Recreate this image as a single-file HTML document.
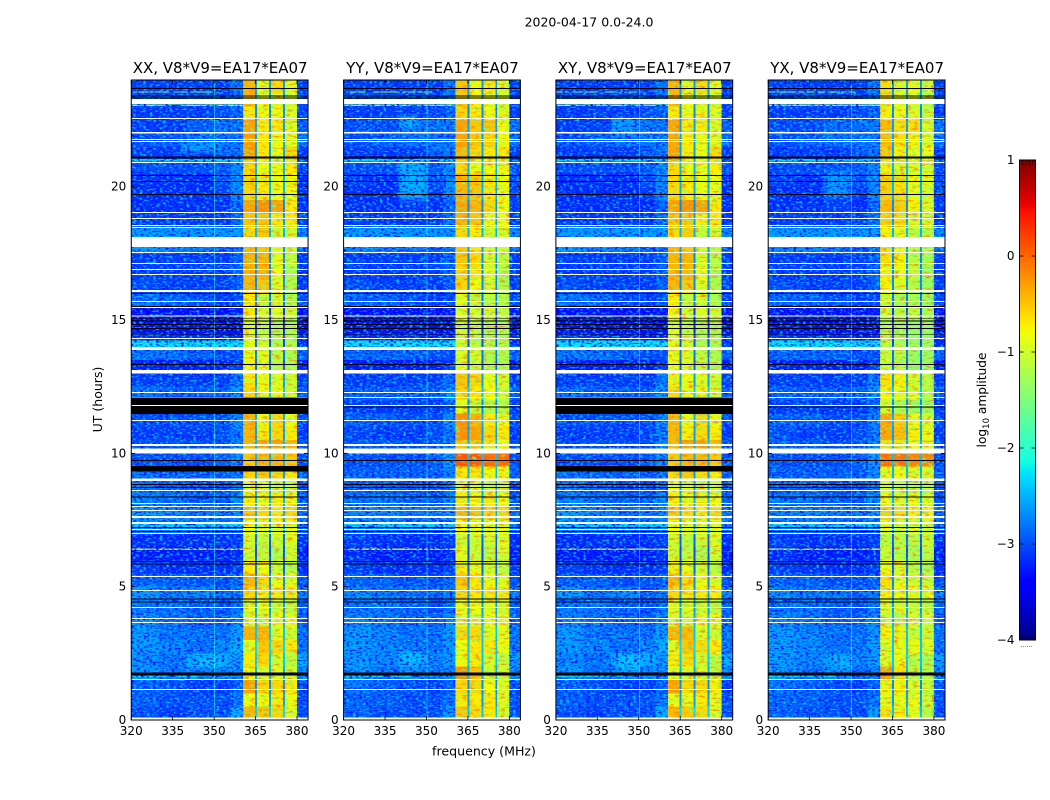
<!DOCTYPE html>
<html lang="en">
<head>
<meta charset="utf-8">
<title>2020-04-17 amplitude waterfall</title>
<style>
html,body{margin:0;padding:0;background:#fff}
svg{display:block}
text{font-family:"DejaVu Sans","Liberation Sans",sans-serif;fill:#000}
</style>
</head>
<body>
<svg id="chart" xmlns="http://www.w3.org/2000/svg" width="1050" height="800" viewBox="0 0 1050 800">
<defs>
<filter id="speck-light" x="0" y="0" width="100%" height="100%" color-interpolation-filters="sRGB">
<feTurbulence type="fractalNoise" baseFrequency="0.3 0.55" numOctaves="1" seed="4"/>
<feColorMatrix type="matrix" values="0 0 0 0 0  0 0 0 0 0.72  0 0 0 0 1  5 0 0 0 -2.45"/>
</filter>
<filter id="speck-dark" x="0" y="0" width="100%" height="100%" color-interpolation-filters="sRGB">
<feTurbulence type="fractalNoise" baseFrequency="0.32 0.58" numOctaves="1" seed="11"/>
<feColorMatrix type="matrix" values="0 0 0 0 0  0 0 0 0 0.1  0 0 0 0 1  5 0 0 0 -2.5"/>
</filter>
<filter id="speck-warm" x="0" y="0" width="100%" height="100%" color-interpolation-filters="sRGB">
<feTurbulence type="fractalNoise" baseFrequency="0.16 0.42" numOctaves="2" seed="23"/>
<feColorMatrix type="matrix" values="0 0 0 0 1  0 0 0 0 0.5  0 0 0 0 0  3.2 0 0 0 -1.7"/>
</filter>
<filter id="speck-cool" x="0" y="0" width="100%" height="100%" color-interpolation-filters="sRGB">
<feTurbulence type="fractalNoise" baseFrequency="0.18 0.4" numOctaves="2" seed="37"/>
<feColorMatrix type="matrix" values="0 0 0 0 0.45  0 0 0 0 1  0 0 0 0 0.5  3.2 0 0 0 -1.75"/>
</filter>
<filter id="soft-blob" x="-30%" y="-30%" width="160%" height="160%">
<feGaussianBlur stdDeviation="2.5"/>
</filter>
</defs>
<text x="589" y="26.5" font-size="12.5" text-anchor="middle">2020-04-17 0.0-24.0</text>
<text x="484" y="755.5" font-size="12.6" text-anchor="middle">frequency (MHz)</text>
<text transform="translate(102,399.5) rotate(-90)" font-size="12.5" text-anchor="middle">UT (hours)</text>
<text transform="translate(986,400) rotate(-90)" font-size="12.2" text-anchor="middle">log<tspan font-size="8.5" dy="3">10</tspan><tspan dy="-3"> amplitude</tspan></text>
</svg>
<script>
// ---- data values ----
const panelTitles = ["XX, V8*V9=EA17*EA07", "YY, V8*V9=EA17*EA07", "XY, V8*V9=EA17*EA07", "YX, V8*V9=EA17*EA07"];
const freqTicks = [320, 335, 350, 365, 380];
const utTicks = [0, 5, 10, 15, 20];
const cbarTicks = [1, 0, -1, -2, -3, -4];
const bgFreqEdges = [320, 330, 340, 350, 356, 360.5];
const blockFreqEdges = [[360.5, 364.8], [365.5, 369.9], [370.6, 374.9], [375.6, 380]];
const gapFreqEdges = [[364.8, 365.5], [369.9, 370.6], [374.9, 375.6], [380, 384]];
const rowHours = 0.5;

// log10 amplitude per half hour (row 0 = 0.0-0.5 h), background columns
const bgX = [
[-3.0,-3.1,-3.0,-3.0,-2.5],[-2.9,-3.0,-3.0,-3.0,-2.8],[-2.9,-3.0,-3.1,-3.1,-2.9],[-2.6,-2.8,-2.7,-2.7,-2.7],
[-2.7,-2.8,-2.5,-2.5,-2.6],[-2.6,-2.7,-2.8,-2.7,-2.5],[-2.6,-2.8,-2.8,-2.8,-2.6],[-2.7,-2.8,-2.9,-2.9,-2.7],
[-2.8,-2.8,-2.9,-3.0,-2.8],[-2.6,-2.8,-2.7,-2.9,-2.8],[-2.9,-2.9,-3.0,-3.0,-2.9],[-3.1,-3.2,-3.2,-3.2,-3.1],
[-3.3,-3.3,-3.3,-3.3,-3.2],[-3.2,-3.2,-3.2,-3.2,-3.1],[-2.7,-2.7,-2.8,-2.9,-2.8],[-2.6,-2.7,-2.8,-2.8,-2.7],
[-2.7,-2.8,-2.9,-2.9,-2.7],[-2.8,-2.9,-3.0,-3.0,-2.8],[-2.8,-2.9,-2.9,-2.9,-2.8],[-3.0,-3.0,-3.0,-2.9,-2.7],
[-3.0,-3.0,-3.0,-3.0,-2.7],[-3.1,-3.1,-3.1,-3.0,-2.8],[-3.0,-3.0,-3.0,-3.0,-2.7],[-3.1,-3.1,-3.1,-3.1,-2.9],
[-2.8,-2.9,-2.9,-2.9,-2.6],[-3.1,-3.1,-3.1,-3.1,-2.8],[-3.3,-3.3,-3.3,-3.3,-3.1],[-2.8,-2.8,-2.9,-3.0,-3.0],
[-3.1,-3.2,-3.2,-3.3,-3.2],[-3.5,-3.5,-3.5,-3.5,-3.4],[-3.4,-3.4,-3.4,-3.4,-3.3],[-2.8,-2.9,-3.0,-3.1,-3.0],
[-3.0,-3.1,-3.1,-3.1,-2.9],[-3.1,-3.1,-3.1,-3.1,-2.9],[-3.1,-3.1,-3.1,-3.1,-2.9],[-2.6,-2.7,-2.8,-2.9,-2.8],
[-2.6,-2.7,-2.7,-2.8,-2.7],[-3.1,-3.1,-3.1,-3.1,-2.8],[-3.2,-3.2,-3.2,-3.2,-2.9],[-3.2,-3.2,-3.2,-3.1,-2.7],
[-3.2,-3.2,-3.2,-3.0,-2.7],[-3.0,-3.0,-3.0,-2.9,-2.7],[-3.1,-3.1,-3.1,-2.9,-2.8],[-3.0,-2.9,-2.8,-2.8,-2.8],
[-3.1,-3.1,-2.9,-2.8,-2.8],[-3.1,-3.1,-3.1,-3.0,-2.9],[-3.0,-3.0,-3.0,-3.0,-2.8],[-3.1,-3.1,-3.1,-3.1,-2.8]];
const bgY = [
[-2.9,-3.0,-3.0,-3.0,-2.6],[-2.9,-2.9,-3.0,-3.0,-2.8],[-2.8,-2.9,-3.0,-3.1,-2.9],[-2.6,-2.8,-2.7,-2.8,-2.7],
[-2.6,-2.7,-2.6,-2.7,-2.6],[-2.6,-2.7,-2.8,-2.8,-2.6],[-2.6,-2.7,-2.8,-2.8,-2.6],[-2.7,-2.8,-2.9,-2.9,-2.7],
[-2.8,-2.8,-2.9,-3.0,-2.8],[-2.7,-2.8,-2.8,-2.9,-2.8],[-2.9,-2.9,-3.0,-3.0,-2.9],[-3.1,-3.2,-3.2,-3.2,-3.1],
[-3.2,-3.3,-3.3,-3.3,-3.2],[-3.1,-3.2,-3.2,-3.2,-3.1],[-2.8,-2.8,-2.9,-3.0,-2.9],[-2.7,-2.7,-2.8,-2.8,-2.7],
[-2.8,-2.8,-2.9,-2.9,-2.7],[-2.9,-2.9,-3.0,-3.0,-2.8],[-2.9,-2.9,-2.9,-2.9,-2.7],[-3.0,-3.0,-3.0,-2.9,-2.6],
[-2.9,-2.9,-3.0,-3.0,-2.7],[-3.0,-3.1,-3.1,-3.0,-2.8],[-2.9,-2.9,-3.0,-3.0,-2.7],[-3.1,-3.1,-3.1,-3.1,-2.9],
[-2.9,-2.9,-2.9,-2.9,-2.6],[-3.1,-3.1,-3.1,-3.1,-2.8],[-3.3,-3.3,-3.3,-3.3,-3.1],[-2.9,-2.9,-2.9,-3.0,-3.0],
[-3.2,-3.2,-3.2,-3.3,-3.2],[-3.5,-3.5,-3.5,-3.5,-3.4],[-3.4,-3.4,-3.4,-3.4,-3.3],[-2.9,-2.9,-3.0,-3.1,-3.0],
[-3.0,-3.1,-3.1,-3.1,-2.9],[-3.1,-3.1,-3.1,-3.1,-2.9],[-3.1,-3.1,-3.1,-3.1,-2.9],[-2.7,-2.7,-2.8,-2.9,-2.8],
[-2.7,-2.7,-2.7,-2.8,-2.7],[-3.1,-3.1,-3.1,-3.1,-2.8],[-3.2,-3.2,-3.1,-3.2,-2.9],[-3.2,-3.2,-3.1,-3.1,-2.7],
[-3.1,-3.2,-3.0,-3.0,-2.7],[-3.0,-3.0,-3.0,-2.9,-2.7],[-3.1,-3.1,-3.1,-2.9,-2.8],[-3.0,-2.9,-2.8,-2.8,-2.8],
[-3.0,-3.0,-2.8,-2.8,-2.8],[-3.1,-3.1,-3.1,-3.0,-2.9],[-3.0,-3.0,-3.0,-3.0,-2.8],[-3.1,-3.1,-3.1,-3.1,-2.8]];

// log10 amplitude per half hour in the four bright frequency blocks
const blockXX = [
[-0.4,-0.5,-0.6,-0.9],[-0.8,-0.8,-0.7,-0.8],[-0.3,-0.6,-0.6,-0.7],[-0.8,-0.9,-0.9,-1.0],
[-0.7,-0.6,-1.0,-1.1],[-0.9,-0.5,-0.6,-0.7],[-0.4,-0.4,-0.9,-1.0],[-0.9,-1.0,-0.8,-0.8],
[-0.9,-0.9,-1.0,-1.1],[-0.6,-0.7,-0.7,-0.7],[-0.4,-0.6,-0.8,-0.9],[-0.7,-0.8,-1.0,-1.1],
[-1.0,-1.1,-1.2,-1.0],[-1.0,-1.1,-1.0,-0.9],[-0.8,-0.9,-0.9,-0.9],[-0.5,-0.6,-0.7,-0.6],
[-0.7,-0.8,-0.7,-0.8],[-0.8,-0.9,-1.0,-1.0],[-0.6,-0.5,-0.6,-0.7],[-0.5,-0.4,-0.4,-0.5],
[-0.4,-0.3,-0.3,-0.4],[-0.4,-0.7,-0.6,-0.7],[-0.4,-0.8,-0.6,-0.8],[-0.7,-0.8,-0.8,-0.9],
[-0.6,-0.8,-0.8,-1.0],[-0.7,-0.8,-0.9,-1.0],[-0.8,-0.9,-1.1,-1.2],[-0.8,-0.9,-1.1,-1.2],
[-0.9,-1.0,-1.2,-1.2],[-0.9,-1.1,-1.2,-1.2],[-0.7,-1.0,-0.9,-1.0],[-0.7,-1.1,-1.0,-1.2],
[-0.4,-0.5,-0.9,-1.2],[-0.4,-0.4,-0.8,-1.2],[-0.4,-0.4,-0.9,-1.1],[-0.4,-0.5,-0.9,-1.0],
[-0.6,-0.5,-1.0,-1.0],[-0.5,-0.5,-0.7,-0.7],[-0.3,-0.2,-0.3,-0.7],[-0.6,-0.7,-0.8,-0.8],
[-0.6,-0.7,-0.8,-0.8],[-0.6,-0.8,-0.8,-0.7],[-0.3,-0.7,-0.8,-0.6],[-0.3,-0.7,-0.8,-0.9],
[-0.3,-0.7,-0.7,-0.9],[-0.7,-0.8,-0.8,-0.9],[-0.4,-0.8,-0.9,-1.0],[-0.4,-0.9,-0.6,-0.9]];
const blockYY = [
[-0.5,-0.6,-0.7,-1.0],[-0.7,-0.7,-0.7,-0.9],[-0.6,-0.6,-0.8,-0.9],[-0.2,-0.5,-1.0,-1.0],
[-0.8,-0.7,-1.0,-1.1],[-0.8,-0.7,-0.7,-0.8],[-0.6,-0.6,-0.9,-0.9],[-0.9,-1.0,-0.8,-0.8],
[-0.8,-0.8,-0.9,-1.0],[-0.6,-0.7,-0.7,-0.7],[-0.5,-0.7,-0.8,-0.9],[-0.7,-0.8,-1.0,-1.1],
[-0.9,-1.0,-1.1,-1.0],[-1.0,-1.0,-1.0,-0.9],[-0.8,-0.9,-0.9,-0.9],[-0.4,-0.5,-0.6,-0.6],
[-0.7,-0.8,-0.7,-0.8],[-0.8,-0.9,-1.0,-1.0],[-0.7,-0.7,-0.8,-0.8],[0.1,0.1,0.0,0.0],
[-0.5,-0.5,-0.7,-0.8],[-0.2,-0.3,-0.6,-0.7],[-0.2,-0.4,-0.7,-0.8],[-0.9,-1.1,-1.2,-1.2],
[-0.6,-0.7,-0.8,-1.0],[-0.5,-0.6,-0.8,-1.0],[-0.9,-1.0,-1.2,-1.2],[-0.9,-1.0,-1.2,-1.2],
[-1.0,-1.1,-1.2,-1.2],[-1.0,-1.1,-1.2,-1.2],[-0.9,-1.0,-1.0,-1.1],[-0.9,-1.1,-1.1,-1.2],
[-0.6,-0.8,-1.0,-1.2],[-0.6,-0.7,-0.9,-1.2],[-0.5,-0.6,-1.0,-1.1],[-0.5,-0.7,-1.0,-1.0],
[-0.6,-0.7,-1.0,-1.0],[-0.4,-0.5,-0.8,-0.8],[-0.3,-0.4,-0.6,-0.8],[-0.4,-0.5,-0.7,-0.8],
[-0.4,-0.5,-0.7,-0.8],[-0.6,-0.8,-0.8,-0.8],[-0.4,-0.6,-0.7,-0.7],[-0.3,-0.5,-0.6,-0.8],
[-0.3,-0.5,-0.5,-0.8],[-0.6,-0.7,-0.8,-0.9],[-0.5,-0.7,-0.8,-1.0],[-0.5,-0.8,-0.7,-0.9]];
const panelBg = [bgX, bgY, bgX, bgY];
const panelBlock = [blockXX, blockYY, blockXX, blockYY];
const panelBlockOffset = [0, 0, -0.02, -0.14];

// flagged (blank) and zero-amplitude (black) time ranges, hours
const whiteFlags = [[23.10,23.29],[22.54,22.58],[21.99,22.05],[21.75,21.79],[21.68,21.71],[20.89,20.93],[19.01,19.05],[18.79,18.83],[18.53,18.56],[18.45,18.49],[17.74,18.11],[17.51,17.55],[17.10,17.14],[16.88,16.91],[16.69,16.73],[16.05,16.13],[15.68,15.71],[15.45,15.49],[15.13,15.17],[14.29,14.33],[13.88,13.99],[12.99,13.13],[12.26,12.30],[12.08,12.11],[11.78,11.81],[11.21,11.25],[10.28,10.35],[9.99,10.18],[8.96,9.06],[8.59,8.63],[8.10,8.14],[7.98,8.02],[7.84,7.88],[7.58,7.65],[7.35,7.43],[7.13,7.16],[6.98,7.01],[5.36,5.40],[4.84,4.88],[4.20,4.24],[3.79,3.83],[3.64,3.68],[1.50,1.54],[1.13,1.16],[0,0.09]];
const blackCommon = [[23.66,23.70],[23.38,23.42],[23.31,23.35],[21.06,21.13],[20.40,20.44],[20.18,20.21],[19.69,19.73],[15.98,16.01],[15.49,15.53],[15.05,15.08],[14.95,14.98],[14.81,14.85],[14.66,14.70],[14.45,14.48],[13.31,13.35],[9.71,9.75],[8.81,8.85],[8.70,8.74],[8.34,8.38],[7.20,7.24],[7.05,7.09],[5.93,5.97],[5.83,5.87],[4.52,4.56],[4.41,4.44],[1.67,1.78]];
const blackExtraX = [[11.81,12.09],[11.48,11.78],[9.32,9.53]];
const blackExtraY = [[11.72,11.76]];
const panelBlackExtra = [blackExtraX, blackExtraY, blackExtraX, blackExtraY];

// narrow RFI features: [t0, t1, f0, f1, level]
const rfiRows = [[6.38,6.43,320,360.5,-0.9],[23.03,23.08,320,360.5,-1.2],[23.54,23.57,320,352,-1.2],[20.95,21.04,320,360.5,-2.3],[13.99,14.24,320,360.5,-2.2],[18.11,18.45,320,360.5,-2.6],[7.2,7.35,320,360.5,-2.3],[1.62,1.67,320,344,-2.3]];
// broadband blobs: [panel, f0, f1, t0, t1, level]
const blobs = [[0,343,352,2.0,2.3,-2.3],[0,338,352,21.3,21.6,-2.4],[1,340,350,19.5,21,-2.3],[1,340,348,2,2.6,-2.3],[1,340,347,22.2,22.7,-2.4],[2,343,350,1.8,2.4,-2.3],[2,340,350,22,22.6,-2.5],[3,343,350,1.9,2.4,-2.4],[3,340,350,19.6,20.6,-2.5]];
const rfiChannels = [350];
const rfiChannelLevel = -2.0;

// ---- layout and scales ----
const NS = "http://www.w3.org/2000/svg";
const svg = document.getElementById("chart");
const panelLefts = [131.25, 343.6, 555.9, 768.2];
const panelW = 176.8, panelTop = 80, panelH = 640;
const fmin = 320, fmax = 384, tmin = 0, tmax = 24;
const cbX = 1019.5, cbW = 16, cbTop = 160, cbH = 480;

function xScale(left, f) { return left + (f - fmin) / (fmax - fmin) * panelW; }
function yScale(t) { return panelTop + panelH - (t - tmin) / (tmax - tmin) * panelH; }
function jetChannel(t, pts) {
  for (let i = 1; i < pts.length; i++) {
    if (t <= pts[i][0]) {
      const a = pts[i - 1], b = pts[i];
      return a[1] + (b[1] - a[1]) * (t - a[0]) / (b[0] - a[0]);
    }
  }
  return pts[pts.length - 1][1];
}
const jetR = [[0,0],[0.35,0],[0.66,1],[0.89,1],[1,0.5]];
const jetG = [[0,0],[0.125,0],[0.375,1],[0.64,1],[0.91,0],[1,0]];
const jetB = [[0,0.5],[0.11,1],[0.34,1],[0.65,0],[1,0]];
function colorOf(v) {
  const t = Math.max(0, Math.min(1, (v + 4) / 5));
  const c = [jetR, jetG, jetB].map(p => Math.round(255 * jetChannel(t, p)));
  return "rgb(" + c.join(",") + ")";
}
function make(tag, attrs, parent) {
  const el = document.createElementNS(NS, tag);
  for (const k in attrs) el.setAttribute(k, attrs[k]);
  (parent || svg).appendChild(el);
  return el;
}
function cellRect(g, left, f0, f1, t0, t1, fill) {
  const x0 = xScale(left, f0), x1 = xScale(left, f1), y0 = yScale(t1), y1 = yScale(t0);
  return make("rect", {x: x0, y: y0, width: x1 - x0, height: y1 - y0, fill: fill, "shape-rendering": "crispEdges"}, g);
}

panelLefts.forEach(function (left, p) {
  const panel = make("g", {});
  
  

  const bgRows = panelBg[p], blockRows = panelBlock[p];
  const cells = make("g", {}, panel);
  
  
  bgRows.forEach(function (row, i) {
    const t0 = i * rowHours, t1 = t0 + rowHours;
    row.forEach(function (v, c) {
      const r = cellRect(cells, left, bgFreqEdges[c], bgFreqEdges[c + 1], t0, t1, colorOf(v));
      
      
    });
    blockRows[i].forEach(function (v, c) {
      const r = cellRect(cells, left, blockFreqEdges[c][0], blockFreqEdges[c][1], t0, t1, colorOf(v + panelBlockOffset[p]));
      
      
    });
    gapFreqEdges.forEach(function (e, c) {
      const level = c < 3 ? row[4] + 0.2 : row[2];
      const r = cellRect(cells, left, e[0], e[1], t0, t1, colorOf(level));
      
      
    });
  });

  blobs.filter(b => b[0] === p).forEach(function (b) {
    const x0 = xScale(left, b[1]), x1 = xScale(left, b[2]), y0 = yScale(b[4]), y1 = yScale(b[3]);
    const r = make("rect", {x: x0, y: y0, width: x1 - x0, height: y1 - y0, fill: colorOf(b[5])}, panel);
    
    
    r.setAttribute('opacity', '0.75');
    r.setAttribute('filter', 'url(#soft-blob)');
  });

  rfiRows.forEach(function (s) {
    const r = cellRect(panel, left, s[2], s[3], s[0], s[1], colorOf(s[4]));
    
    
  });

  // receiver-noise grain over the quiet background columns
  [[fmin, 360.5], [380, fmax]].forEach(function (span) {
    ["speck-light", "speck-dark"].forEach(function (id) {
      const r = cellRect(panel, left, span[0], span[1], tmin, tmax, "#000");
      
      
      r.setAttribute('filter', 'url(#' + id + ')');
    });
  });
  // mottling inside the bright blocks
  blockFreqEdges.forEach(function (span) {
    ["speck-warm", "speck-cool"].forEach(function (id) {
      const r = cellRect(panel, left, span[0], span[1], tmin, tmax, "#000");
      
      
      r.setAttribute('filter', 'url(#' + id + ')');
    });
  });

  rfiChannels.forEach(function (f) {
    const r = cellRect(panel, left, f, f + 0.36, tmin, tmax, colorOf(rfiChannelLevel));
    
    
    r.setAttribute('opacity', '0.55');
  });

  whiteFlags.forEach(function (b) {
    const r = cellRect(panel, left, fmin, fmax, b[0], b[1], "#fff");
    
    
  });
  blackCommon.concat(panelBlackExtra[p]).forEach(function (b) {
    const r = cellRect(panel, left, fmin, fmax, b[0], b[1], "#000");
    
    
  });

  const frame = make("rect", {x: left, y: panelTop, width: panelW, height: panelH, fill: "none", stroke: "#000", "stroke-width": 1}, panel);
  
  

  const title = make("text", {x: left + panelW / 2 + 0.5, y: panelTop - 7, "font-size": 15, "text-anchor": "middle"}, panel);
  title.textContent = panelTitles[p];
  
  

  freqTicks.forEach(function (f) {
    const x = xScale(left, f);
    [[panelTop + panelH, panelTop + panelH - 4], [panelTop, panelTop + 4]].forEach(function (s) {
      const tick = make("line", {x1: x, x2: x, y1: s[0], y2: s[1], stroke: "#000", "stroke-width": 0.8}, panel);
      
      
    });
    const label = make("text", {x: x, y: panelTop + panelH + 15, "font-size": 12, "text-anchor": "middle"}, panel);
    label.textContent = f;
    
    
  });
  utTicks.forEach(function (t) {
    const y = yScale(t);
    [[left, left + 4], [left + panelW, left + panelW - 4]].forEach(function (s) {
      const tick = make("line", {x1: s[0], x2: s[1], y1: y, y2: y, stroke: "#000", "stroke-width": 0.8}, panel);
      
      
    });
    const label = make("text", {x: left - 5, y: y + 4, "font-size": 12, "text-anchor": "end"}, panel);
    label.textContent = t;
    
    
  });
});

// ---- colorbar ----
const cbar = make("g", {});


const cbMin = cbarTicks[cbarTicks.length - 1], cbMax = cbarTicks[0];
function cbY(v) { return cbTop + (cbMax - v) / (cbMax - cbMin) * cbH; }
const cbSteps = 256;
for (let i = 0; i < cbSteps; i++) {
  const v0 = cbMin + (cbMax - cbMin) * i / cbSteps, v1 = cbMin + (cbMax - cbMin) * (i + 1) / cbSteps;
  const s = make("rect", {x: cbX, y: cbY(v1), width: cbW, height: cbY(v0) - cbY(v1) + 0.5, fill: colorOf((v0 + v1) / 2), "shape-rendering": "crispEdges"}, cbar);
  
  
}
const cbFrame = make("rect", {x: cbX, y: cbTop, width: cbW, height: cbH, fill: "none", stroke: "#000", "stroke-width": 1}, cbar);


cbarTicks.forEach(function (v) {
  const y = cbY(v);
  [[cbX, cbX + 4], [cbX + cbW, cbX + cbW - 4]].forEach(function (s) {
    const tick = make("line", {x1: s[0], x2: s[1], y1: y, y2: y, stroke: "#000", "stroke-width": 0.8}, cbar);
    
    
  });
  const label = make("text", {x: cbX - 5, y: y + 4, "font-size": 12, "text-anchor": "end"}, cbar);
  label.textContent = String(v).replace("-", "\u2212");
  
  
});
// minor log ticks at both ends of the bar
for (let k = 1; k < 5; k++) {
  const x = cbX + k * cbW / 5;
  [[cbTop, cbTop + 5], [cbTop + cbH, cbTop + cbH - 5]].forEach(function (s) {
    const m = make("line", {x1: x, x2: x, y1: s[0], y2: s[1], stroke: "#000", "stroke-width": 0.6}, cbar);
    
    
  });
}
const cbDots = make("text", {x: cbX + cbW / 2 - 1, y: cbTop + cbH + 7, "font-size": 6, "text-anchor": "middle", fill: "#777"}, cbar);
cbDots.textContent = "......";


</script>
</body>
</html>
